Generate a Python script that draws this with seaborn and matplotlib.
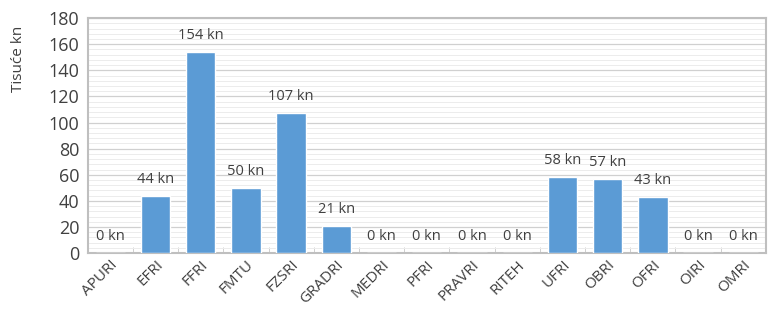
import numpy as np
import pandas as pd
import matplotlib.pyplot as plt
import seaborn as sns
from matplotlib.ticker import MultipleLocator, FixedLocator

fakulteti = ['APURI', 'EFRI', 'FFRI', 'FMTU', 'FZSRI', 'GRADRI', 'MEDRI', 'PFRI',
             'PRAVRI', 'RITEH', 'UFRI', 'OBRI', 'OFRI', 'OIRI', 'OMRI']
iznosi = [0, 44, 154, 50, 107, 21, 0, 0, 0, 0, 58, 57, 43, 0, 0]

df = pd.DataFrame({'fakultet': fakulteti, 'iznos': iznosi})

sns.set_style('white')
plt.rcParams['font.family'] = ['Open Sans', 'DejaVu Sans']

fig = plt.figure(figsize=(7.69, 3.18), dpi=100)
ax = fig.add_axes([0.114, 0.204, 0.882, 0.739])

sns.barplot(data=df, x='fakultet', y='iznos', color='#5B9BD5', width=0.65,
            saturation=1, ax=ax, zorder=3)

ax.set_ylim(0, 180)
ax.set_xlim(-0.5, len(fakulteti) - 0.5)
ax.yaxis.set_major_locator(MultipleLocator(20))
ax.yaxis.set_minor_locator(MultipleLocator(4))
ax.grid(axis='y', which='major', color='#d0d0d0', linewidth=0.9, zorder=0)
ax.grid(axis='y', which='minor', color='#ececec', linewidth=0.7, zorder=0)
ax.xaxis.set_minor_locator(FixedLocator(np.arange(0.5, len(fakulteti) - 0.5, 1)))
ax.tick_params(axis='x', which='minor', direction='in', length=4, color='#c8c8c8', bottom=True)
ax.tick_params(axis='x', which='major', length=0, labelsize=11, labelcolor='#404040', pad=3)
ax.tick_params(axis='y', which='both', length=0, labelsize=13, labelcolor='#404040', pad=6)
plt.setp(ax.get_xticklabels(), rotation=45, ha='right', rotation_mode='anchor')

for s in ax.spines.values():
    s.set_color('#bfbfbf')
    s.set_linewidth(1.5)

for i, v in enumerate(iznosi):
    ax.text(i, v + 7, f'{v} kn', ha='center', va='bottom', fontsize=10.5, color='#404040')

ax.set_xlabel('')
ax.set_ylabel('')
fig.text(0.024, 0.92, 'Tisuće kn', rotation=90, ha='center', va='top',
         fontsize=11, color='#404040')

fig.savefig('out.png', dpi=100)
